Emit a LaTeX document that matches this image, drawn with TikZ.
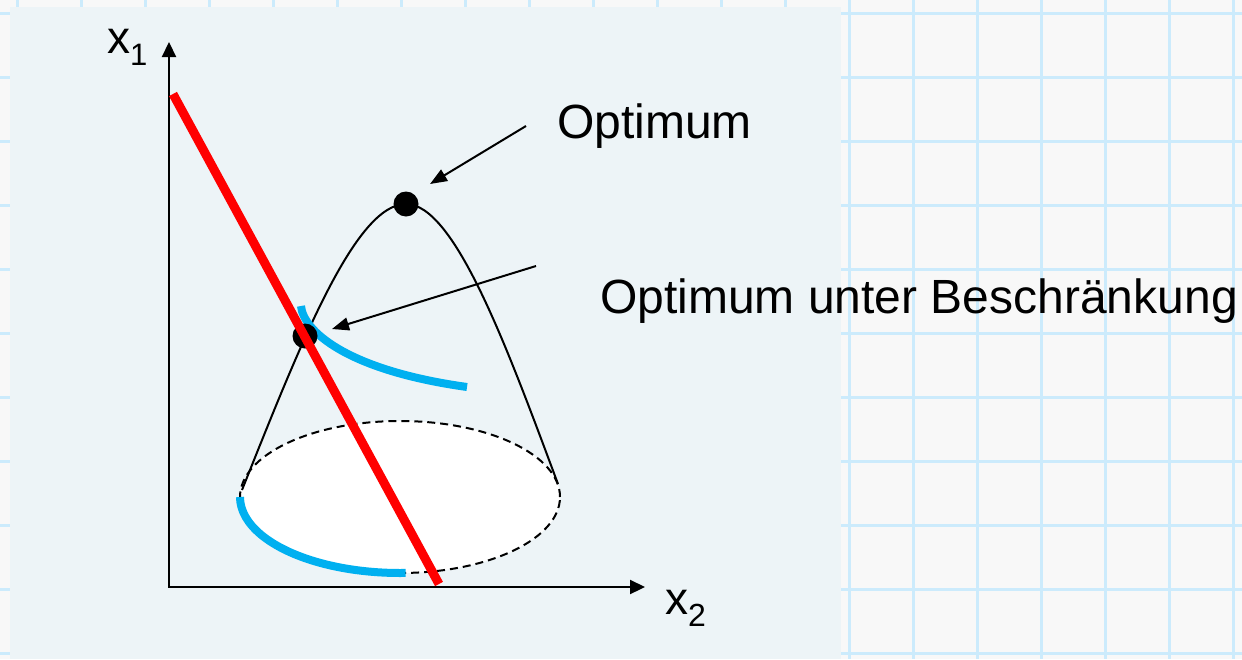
\documentclass[tikz,border=0pt]{standalone}
\usepackage{fontspec}
\setmainfont{Liberation Sans}
\usetikzlibrary{arrows.meta}
\definecolor{paper}{HTML}{F8F8F8}
\definecolor{gridblue}{HTML}{CCEBFC}
\definecolor{panelbg}{HTML}{EDF4F7}
\definecolor{cyanline}{HTML}{00B0F0}
\begin{document}
\begin{tikzpicture}[x=1pt,y=-1pt,
  gridline/.style={gridblue, line width=3pt},
  axisline/.style={line width=2.2pt, line join=miter, {Triangle[length=15pt,width=14pt]}-{Triangle[length=15pt,width=14pt]}},
  conecurve/.style={line width=2pt},
  baseellipse/.style={line width=2pt, dash pattern=on 8pt off 5pt, fill=white},
  isoline/.style={cyanline, line width=8pt},
  constraint/.style={red, line width=9pt},
  dot/.style={circle, fill=black, inner sep=0pt, minimum size=25pt},
  pointer/.style={line width=2pt, -{Triangle[length=17pt,width=13pt]}},
  lbl/.style={inner sep=0pt, anchor=base west, font=\fontsize{48}{56}\selectfont},
  axlbl/.style={inner sep=0pt, anchor=base west, font=\fontsize{46}{52}\selectfont}
]
\useasboundingbox (0,0) rectangle (1242,659);
% graph paper background
\fill[paper] (0,0) rectangle (1242,659);
\foreach \i in {0,...,19} \draw[gridline] ({17+64*\i},0) -- ({17+64*\i},659);
\foreach \j in {0,...,10} \draw[gridline] (0,{13+64*\j}) -- (1242,{13+64*\j});
\fill[panelbg] (10,7) rectangle (841,659);

% axes
\coordinate (O) at (169,587);
\coordinate (Ytip) at (169,42);
\coordinate (Xtip) at (645,587);
\draw[axisline] (Ytip) -- (O) -- (Xtip);
\node[axlbl] (xone) at (107,53) {x\raisebox{-12pt}{\fontsize{31}{31}\selectfont 1}};
\node[axlbl] (xtwo) at (665,614) {x\raisebox{-12pt}{\fontsize{32}{32}\selectfont 2}};

% base ellipse of the hill
\coordinate (E) at (400,497);
\draw[baseellipse] (E) ellipse [x radius=160pt, y radius=76pt];

% hill profile
\coordinate (hl) at (242,490);
\coordinate (hr) at (558,484);
\coordinate (top) at (406,204);
\draw[conecurve] (hl) .. controls (300,345) and (355,204) .. (top)
  .. controls (455,204) and (508,350) .. (hr);

% iso-lines (cyan)
\coordinate (c1s) at (240,497);
\draw[isoline] (c1s) arc[start angle=180, end angle=272, x radius=160pt, y radius=76pt];
\coordinate (c2s) at (301,306);
\coordinate (c2e) at (467,387);
\draw[isoline] (c2s) .. controls (303,330) and (345,370) .. (c2e);

% optima
\node[dot] (opt) at (top) {};
\node[dot] (copt) at (305,336) {};

% constraint line
\coordinate (r1) at (173,94);
\coordinate (r2) at (439,584);
\draw[constraint] (r1) -- (r2);

% labels and pointers
\node[lbl] (toptext) at (557,138) {Optimum};
\node[lbl] (ctext) at (600,313) {Optimum unter Beschränkung};
\coordinate (a1) at (526,126);
\coordinate (a1tip) at (430,184);
\draw[pointer] (a1) -- (a1tip);
\coordinate (a2) at (536,266);
\coordinate (a2tip) at (332,329);
\draw[pointer] (a2) -- (a2tip);
\end{tikzpicture}
\end{document}
